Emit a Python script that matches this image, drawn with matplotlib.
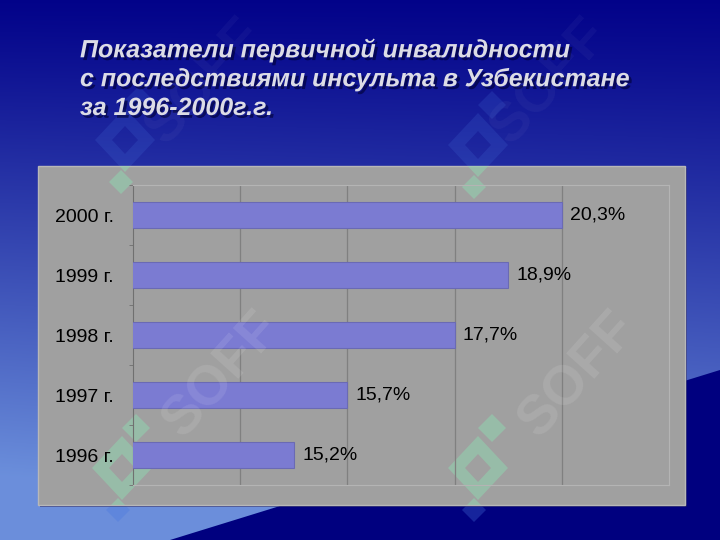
import numpy as np
import matplotlib
matplotlib.use('Agg')
import matplotlib.pyplot as plt
import matplotlib.patheffects as pe
from matplotlib.patches import Rectangle, Polygon, PathPatch
from matplotlib.path import Path

# данные
years = ['1996 г.', '1997 г.', '1998 г.', '1999 г.', '2000 г.']
bar_lengths = [15.0, 16.0, 18.0, 19.0, 20.0]  # длина столбцов, как нарисовано
value_labels = ['15,2%', '15,7%', '17,7%', '18,9%', '20,3%']
title_lines = ['Показатели первичной инвалидности',
               'с последствиями инсульта в Узбекистане',
               'за 1996-2000г.г.']

W, H = 720, 540
fig = plt.figure(figsize=(7.2, 5.4), dpi=100)

# фон слайда
bg = fig.add_axes([0, 0, 1, 1])
bg.set_xlim(0, W)
bg.set_ylim(H, 0)
bg.axis('off')

yy, xx = np.mgrid[0:H, 0:W]
t = (yy / H) ** 1.1 + 0.15 * (1 - xx / W) * (yy / H)
t = np.clip(t, 0, 1)[..., None]
c0 = np.array([0.01, 0.01, 0.54])
c1 = np.array([0.42, 0.56, 0.86])
img = c0 + (c1 - c0) * t
bg.imshow(img, extent=(0, W, H, 0), aspect='auto', zorder=0)
bg.add_patch(Polygon([(170, H), (W, 370), (W, H)], closed=True,
                     facecolor='#00007f', edgecolor='none', zorder=1))

# серая панель диаграммы
bg.add_patch(Rectangle((40, 168), 647, 339, facecolor='#1a1a60',
                       edgecolor='none', zorder=3, alpha=0.6))
panel = Rectangle((38, 166), 647, 339, facecolor='#a0a0a0',
                  edgecolor='#b8b8b8', linewidth=1, zorder=4)
bg.add_patch(panel)


# логотип-водяной знак (грубо)
def diamond(x, y, rx, ry):
    return [(x, y - ry), (x + rx, y), (x, y + ry), (x - rx, y), (x, y - ry)]


def logo(cx, cy, a_blue):
    outer = diamond(cx, cy, 30, 32)
    inner = diamond(cx, cy, 13, 14)[::-1]
    codes = [Path.MOVETO] + [Path.LINETO] * 3 + [Path.CLOSEPOLY]
    ring = Path(outer + inner, codes + codes)
    paths = [ring,
             Path(diamond(cx + 14, cy - 40, 14, 14), codes),
             Path(diamond(cx - 4, cy + 42, 12, 12), codes)]
    for pth in paths:
        bg.add_patch(PathPatch(pth, facecolor='#4a78e0', alpha=a_blue,
                               edgecolor='none', zorder=2))
        p = PathPatch(pth, facecolor='#8fd8b0', alpha=0.5,
                      edgecolor='none', zorder=4.5)
        bg.add_patch(p)
        p.set_clip_path(panel)


for cx, cy, a in [(125, 140, 0.18), (478, 145, 0.18),
                  (122, 468, 0.35), (478, 468, 0.3)]:
    logo(cx, cy, a)

# заголовок
for i, line in enumerate(title_lines):
    bg.text(80, 50 + i * 29, line, fontsize=18, fontweight='bold',
            fontstyle='italic', color='#dcdce6', ha='left', va='center',
            family='Liberation Sans', zorder=5,
            path_effects=[pe.withSimplePatchShadow(offset=(2, -2),
                                                   shadow_rgbFace='#000033',
                                                   alpha=0.6)])

# сама диаграмма
ax = fig.add_axes([133 / W, 1 - 485 / H, 536 / W, 300 / H])
ax.set_facecolor('none')
ypos = np.arange(len(years))
ax.barh(ypos, bar_lengths, height=0.43, left=0, color='#7b7bd2',
        edgecolor='#6a6ab4', linewidth=0.8, zorder=3)
ax.set_xlim(12, 22)
ax.set_ylim(-0.5, 4.5)
ax.set_xticks([14, 16, 18, 20])
ax.set_xticklabels([])
ax.tick_params(axis='x', length=0)
ax.grid(axis='x', color='#808080', linewidth=0.9, zorder=1)
ax.set_axisbelow(True)

ax.set_yticks(ypos)
ax.set_yticklabels(years, family=['Liberation Sans', 'DejaVu Sans'],
                   fontsize=14, color='black')
ax.tick_params(axis='y', length=0, pad=14)
ax.set_yticks(np.arange(-0.5, 4.6, 1.0), minor=True)
ax.tick_params(axis='y', which='minor', length=3, color='#707070')

for s in ['top', 'right', 'bottom']:
    ax.spines[s].set_color('#b4b4b4')
ax.spines['left'].set_color('#707070')

for y, v, lab in zip(ypos, bar_lengths, value_labels):
    ax.annotate(lab, (v, y), xytext=(6, 0), textcoords='offset points',
                ha='left', va='center', fontsize=14, color='black',
                family=['Liberation Sans', 'DejaVu Sans'])

# надписи SOFF поверх всего
for x, y, a in [(205, 82, 0.04), (550, 82, 0.04),
                (222, 375, 0.1), (578, 375, 0.1)]:
    fig.text(x / W, 1 - y / H, 'SOFF', rotation=48, fontsize=40,
             fontweight='bold', color='white', alpha=a, ha='center',
             va='center', family='Liberation Sans', zorder=6)

fig.savefig('out.png', dpi=100)
